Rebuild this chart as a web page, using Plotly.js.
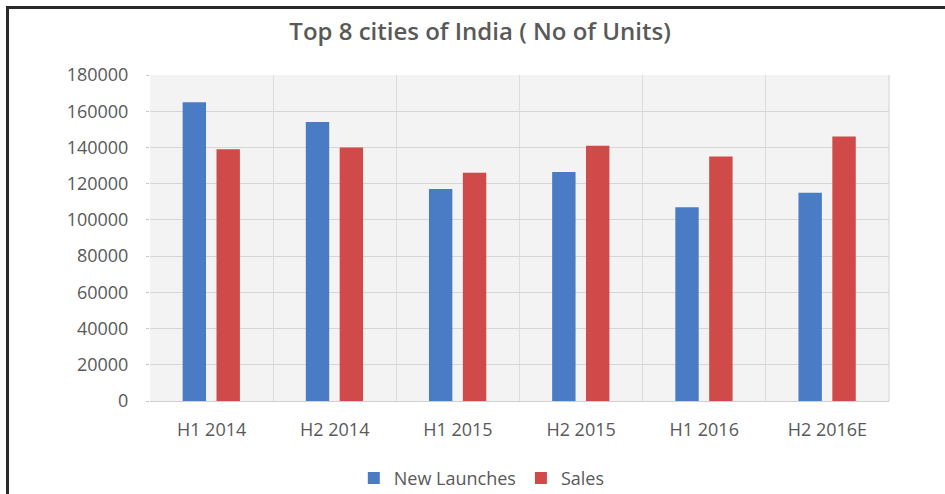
<!DOCTYPE html>
<html>
<head>
<meta charset="utf-8">
<script src="https://cdn.plot.ly/plotly-3.0.1.min.js"></script>
<style>
  html, body { margin: 0; padding: 0; background: #fff; }
  #wrap { position: relative; width: 945px; height: 494px; }
  #chart { position: absolute; left: 0; top: 0; width: 945px; height: 494px; }
  #frame { position: absolute; left: 6px; top: 6px; width: 945px; height: 494px;
           border-top: 3px solid #2a2a2a; border-left: 3px solid #2a2a2a; pointer-events: none; }
</style>
</head>
<body>
<div id="wrap">
  <div id="chart"></div>
  <div id="frame"></div>
</div>
<script>
const categories = ["H1 2014", "H2 2014", "H1 2015", "H2 2015", "H1 2016", "H2 2016E"];
const newLaunches = [165000, 154000, 117000, 126500, 107000, 115000];
const sales = [139000, 140000, 126000, 141000, 135000, 146000];
const yTicks = [0, 20000, 40000, 60000, 80000, 100000, 120000, 140000, 160000, 180000];

const font = "'Open Sans', 'Noto Sans', sans-serif";

const traces = [
  { type: "bar", name: "New Launches", x: categories, y: newLaunches,
    marker: { color: "#4a7cc6" }, width: 0.19, offset: -0.235 },
  { type: "bar", name: "Sales", x: categories, y: sales,
    marker: { color: "#d04a4a" }, width: 0.19, offset: 0.04 }
];

const layout = {
  width: 945, height: 494,
  margin: { l: 150, r: 56, t: 75, b: 93, autoexpand: false },
  paper_bgcolor: "#ffffff",
  plot_bgcolor: "#f3f3f3",
  font: { family: font, color: "#595959", size: 18 },
  title: { text: "Top 8 cities of India ( No of Units)", x: 0.508, xanchor: "center",
           y: 0.937, yanchor: "middle",
           font: { family: font, size: 24, color: "#595959", weight: 600 } },
  barmode: "group",
  showlegend: true,
  legend: { orientation: "h", xref: "paper", x: 0.449, xanchor: "center",
            yref: "container", y: 0.032, yanchor: "middle",
            font: { family: font, size: 18, color: "#595959" }, itemwidth: 30 },
  xaxis: { type: "category", tickson: "boundaries", showgrid: true, gridcolor: "#dcdcdc",
           ticks: "", showline: true, linecolor: "#d0d0d0", ticklabelstandoff: 12,
           automargin: false,
           tickfont: { family: font, size: 18, color: "#595959" }, fixedrange: true },
  yaxis: { range: [0, 180000], tickvals: yTicks, ticktext: yTicks.map(String),
           showgrid: true, gridcolor: "#d6d6d6", zeroline: false,
           ticks: "outside", ticklen: 3, tickcolor: "#c8c8c8", ticklabelstandoff: 14,
           showline: false, automargin: false,
           tickfont: { family: font, size: 18, color: "#595959" }, fixedrange: true },
  shapes: [
    { type: "line", xref: "paper", yref: "paper", x0: 1, x1: 1, y0: 0, y1: 1,
      line: { color: "#d0d0d0", width: 1 } }
  ]
};

Plotly.newPlot("chart", traces, layout, { staticPlot: true, displayModeBar: false });
</script>
</body>
</html>
